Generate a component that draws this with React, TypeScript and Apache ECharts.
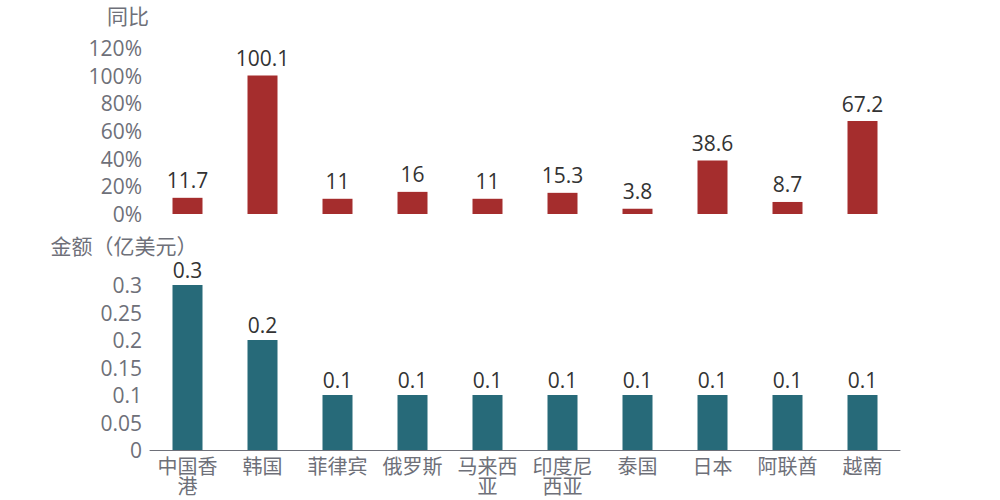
import React, { useEffect, useRef } from "react";
import * as echarts from "echarts";

const categories = ["中国香港", "韩国", "菲律宾", "俄罗斯", "马来西亚", "印度尼西亚", "泰国", "日本", "阿联酋", "越南"];
const yoyValues = [11.7, 100.1, 11, 16, 11, 15.3, 3.8, 38.6, 8.7, 67.2];
const amountValues = [0.3, 0.2, 0.1, 0.1, 0.1, 0.1, 0.1, 0.1, 0.1, 0.1];

const FONT = '"Open Sans", "Noto Sans CJK SC", sans-serif';
const AXIS_COLOR = "#6E7079";

export default function App() {
  const ref = useRef<HTMLDivElement>(null);
  useEffect(() => {
    if (!ref.current) return;
    const chart = echarts.init(ref.current, null, { renderer: "svg" });
    chart.setOption({
      animation: false,
      textStyle: { fontFamily: FONT },
      grid: [
        { left: 150, right: 100, top: 48, height: 166 },
        { left: 150, right: 100, top: 285, height: 165 },
      ],
      xAxis: [
        {
          type: "category",
          gridIndex: 0,
          data: categories,
          show: false,
        },
        {
          type: "category",
          gridIndex: 1,
          data: categories,
          axisLine: { lineStyle: { color: AXIS_COLOR } },
          axisTick: { alignWithLabel: true, length: 5, lineStyle: { color: AXIS_COLOR } },
          axisLabel: {
            interval: 0,
            color: AXIS_COLOR,
            fontSize: 20,
            fontFamily: FONT,
            width: 64,
            overflow: "break",
            lineHeight: 20,
            margin: 6,
          },
        },
      ],
      yAxis: [
        {
          type: "value",
          gridIndex: 0,
          min: 0,
          max: 120,
          interval: 20,
          name: "同比",
          nameLocation: "end",
          nameGap: 22,
          nameTextStyle: { color: AXIS_COLOR, fontSize: 21, fontFamily: FONT, padding: [0, 44, 0, 0] },
          axisLine: { show: false },
          axisTick: { show: false },
          splitLine: { show: false },
          axisLabel: { formatter: "{value}%", color: AXIS_COLOR, fontSize: 21, fontFamily: FONT, margin: 8 },
        },
        {
          type: "value",
          gridIndex: 1,
          min: 0,
          max: 0.3,
          interval: 0.05,
          name: "金额（亿美元）",
          nameLocation: "end",
          nameGap: 29,
          nameTextStyle: { color: AXIS_COLOR, fontSize: 21, fontFamily: FONT, padding: [0, 52, 0, 0] },
          axisLine: { show: false },
          axisTick: { show: false },
          splitLine: { show: false },
          axisLabel: { color: AXIS_COLOR, fontSize: 21, fontFamily: FONT, margin: 8 },
        },
      ],
      series: [
        {
          type: "bar",
          xAxisIndex: 0,
          yAxisIndex: 0,
          data: yoyValues,
          barWidth: 30,
          itemStyle: { color: "#A52D2D" },
          label: { show: true, position: "top", color: "#333", fontSize: 21, fontFamily: FONT, distance: 7 },
        },
        {
          type: "bar",
          xAxisIndex: 1,
          yAxisIndex: 1,
          data: amountValues,
          barWidth: 30,
          itemStyle: { color: "#276A79" },
          label: { show: true, position: "top", color: "#333", fontSize: 21, fontFamily: FONT, distance: 5 },
        },
      ],
    });
    return () => chart.dispose();
  }, []);
  return <div ref={ref} style={{ position: "absolute", left: 0, top: 0, width: 1000, height: 500 }} />;
}
